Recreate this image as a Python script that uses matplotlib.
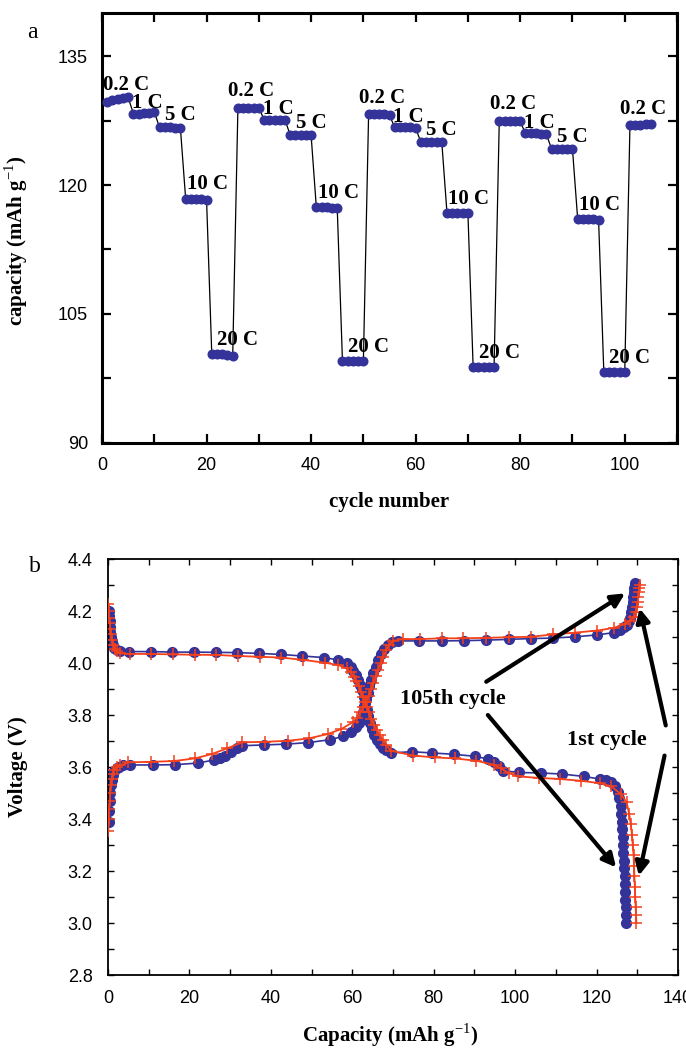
import matplotlib
matplotlib.use("Agg")
import matplotlib.pyplot as plt
from matplotlib.ticker import MultipleLocator

# ---- panel a : rate capability ----
cycles = list(range(1, 106))
capacity = [
    129.7, 129.9, 130.0, 130.1, 130.2,
    128.3, 128.3, 128.4, 128.4, 128.5,
    126.7, 126.7, 126.7, 126.6, 126.6,
    118.4, 118.4, 118.4, 118.4, 118.3,
    100.3, 100.3, 100.3, 100.2, 100.1,
    129.0, 129.0, 129.0, 129.0, 129.0,
    127.6, 127.6, 127.6, 127.6, 127.6,
    125.8, 125.8, 125.8, 125.8, 125.8,
    117.4, 117.4, 117.4, 117.3, 117.3,
    99.5, 99.5, 99.5, 99.5, 99.5,
    128.2, 128.2, 128.2, 128.2, 128.1,
    126.7, 126.7, 126.7, 126.7, 126.6,
    125.0, 125.0, 125.0, 125.0, 125.0,
    116.7, 116.7, 116.7, 116.7, 116.7,
    98.8, 98.8, 98.8, 98.8, 98.8,
    127.5, 127.5, 127.5, 127.4, 127.4,
    126.0, 126.0, 126.0, 125.9, 125.9,
    124.2, 124.2, 124.2, 124.2, 124.2,
    116.0, 116.0, 116.0, 116.0, 115.9,
    98.2, 98.2, 98.2, 98.2, 98.2,
    127.0, 127.0, 127.0, 127.1, 127.1,
]
rates = ['0.2 C', '1 C', '5 C', '10 C', '20 C'] * 4 + ['0.2 C']

# ---- panel b : charge / discharge curves ----
# 105th cycle (blue circles)
b_ch_q = [0.2, 0.3, 0.4, 0.5, 0.7, 0.9, 1.2, 1.6, 2.1, 2.8, 3.6,
          5.4, 11.0, 16.4, 22.0, 26.0, 27.4, 28.8, 30.2, 31.6, 33.0, 38.4, 43.7,
          49.2, 54.5, 57.8, 59.6, 61.0, 61.7, 62.2, 62.6, 63.0, 63.4, 63.8, 64.2,
          64.7, 65.2, 65.8, 66.4, 67.1, 67.9, 68.8, 69.8, 71.3, 76.5, 82.0, 87.5,
          92.9, 98.4, 103.9, 109.3, 114.8, 120.2, 124.2, 125.8, 126.8, 127.5,
          128.0, 128.3, 128.5, 128.7, 128.85, 129.0, 129.1, 129.3, 129.5]
b_ch_v = [3.39, 3.43, 3.47, 3.50, 3.53, 3.55, 3.57, 3.585, 3.595, 3.602, 3.606,
          3.608, 3.608, 3.609, 3.615, 3.627, 3.633, 3.644, 3.656, 3.672, 3.682, 3.685, 3.688,
          3.694, 3.705, 3.718, 3.733, 3.753, 3.77, 3.79, 3.81, 3.835, 3.86, 3.885, 3.91,
          3.935, 3.96, 3.985, 4.01, 4.035, 4.055, 4.07, 4.079, 4.085, 4.085, 4.085, 4.086,
          4.088, 4.091, 4.094, 4.096, 4.101, 4.108, 4.117, 4.127, 4.137, 4.146,
          4.16, 4.175, 4.195, 4.215, 4.235, 4.255, 4.275, 4.29, 4.306]
b_dis_q = [0.2, 0.3, 0.4, 0.5, 0.6, 0.7, 0.9, 1.2, 1.6, 2.2, 2.9,
           5.2, 10.5, 15.8, 21.1, 26.5, 31.8, 37.1, 42.5, 47.7, 53.0, 56.6, 58.6,
           59.6, 60.3, 60.9, 61.5, 62.0, 62.4, 62.8, 63.1, 63.5, 63.9, 64.3, 64.8,
           65.4, 66.0, 66.7, 67.5, 68.3, 69.4, 74.6, 79.7, 85.0, 90.2, 93.3, 94.9,
           96.1, 97.0, 101.0, 106.4, 111.5, 116.8, 120.8, 122.2, 123.6, 124.6,
           125.2, 125.6, 125.9, 126.1, 126.2, 126.3, 126.4, 126.5, 126.6, 126.7,
           126.8, 126.9, 127.0, 127.05, 127.1, 127.2, 127.25, 127.3]
b_dis_v = [4.20, 4.18, 4.16, 4.14, 4.12, 4.10, 4.085, 4.07, 4.058, 4.05, 4.047,
           4.044, 4.044, 4.042, 4.042, 4.041, 4.040, 4.037, 4.033, 4.027, 4.021, 4.012, 3.999,
           3.985, 3.97, 3.953, 3.935, 3.915, 3.895, 3.87, 3.845, 3.82, 3.795, 3.77, 3.745,
           3.722, 3.704, 3.69, 3.675, 3.665, 3.654, 3.659, 3.654, 3.649, 3.641, 3.631, 3.621,
           3.605, 3.586, 3.579, 3.577, 3.573, 3.564, 3.554, 3.551, 3.541, 3.526,
           3.505, 3.48, 3.45, 3.42, 3.39, 3.36, 3.33, 3.30, 3.27, 3.24,
           3.21, 3.18, 3.15, 3.12, 3.09, 3.06, 3.03, 3.00]

# 1st cycle (red crosses)
r_ch_q = [0.1, 0.2, 0.3, 0.4, 0.5, 0.7, 0.9, 1.2, 1.6, 2.2, 3.0,
          5.0, 10.6, 16.2, 21.3, 25.5, 29.3, 33.0, 38.6, 44.2, 49.3, 54.0, 57.3,
          60.1, 61.2, 62.0, 62.7, 63.4, 64.0, 64.6, 65.2, 65.8, 66.4, 67.0, 67.6,
          68.3, 69.1, 70.1, 72.5, 76.6, 82.0, 87.3, 92.9, 98.4, 103.9, 109.3, 114.8,
          120.2, 124.2, 127.0, 128.3, 129.1, 129.6, 129.9, 130.1, 130.3, 130.4,
          130.5, 130.6]
r_ch_v = [3.355, 3.40, 3.44, 3.47, 3.50, 3.53, 3.555, 3.575, 3.59, 3.60, 3.607,
          3.618, 3.62, 3.623, 3.633, 3.65, 3.672, 3.695, 3.697, 3.701, 3.71, 3.727, 3.746,
          3.772, 3.79, 3.81, 3.83, 3.85, 3.875, 3.90, 3.925, 3.95, 3.975, 4.0, 4.025,
          4.05, 4.07, 4.085, 4.092, 4.092, 4.095, 4.095, 4.097, 4.099, 4.101, 4.11, 4.117,
          4.125, 4.135, 4.15, 4.163, 4.176, 4.195, 4.215, 4.235, 4.255, 4.275,
          4.29, 4.30]
r_dis_q = [0.1, 0.2, 0.3, 0.4, 0.6, 0.8, 1.0, 1.3, 1.7, 2.2, 2.9,
           5.3, 10.6, 16.0, 21.3, 26.6, 32.0, 37.3, 42.6, 48.0, 53.3, 56.6, 58.6,
           59.6, 60.4, 61.0, 61.6, 62.1, 62.6, 63.1, 63.6, 64.1, 64.7, 65.3, 66.0,
           66.7, 67.5, 68.4, 69.4, 75.0, 80.2, 85.3, 90.5, 94.7, 96.5, 98.4, 100.7,
           105.9, 111.0, 116.2, 120.8, 123.6, 126.0, 127.4, 128.0, 128.4, 128.7,
           128.9, 129.1, 129.2, 129.3, 129.4, 129.5, 129.6, 129.7, 129.8]
r_dis_v = [4.227, 4.20, 4.175, 4.155, 4.13, 4.11, 4.09, 4.07, 4.055, 4.045, 4.037,
           4.035, 4.035, 4.033, 4.032, 4.031, 4.027, 4.024, 4.021, 4.012, 4.001, 3.992, 3.979,
           3.965, 3.947, 3.93, 3.91, 3.89, 3.87, 3.85, 3.83, 3.81, 3.785, 3.762, 3.742,
           3.725, 3.705, 3.685, 3.663, 3.644, 3.637, 3.633, 3.624, 3.609, 3.595, 3.577, 3.564,
           3.558, 3.554, 3.547, 3.538, 3.526, 3.496, 3.464, 3.42, 3.38, 3.34,
           3.30, 3.26, 3.22, 3.18, 3.14, 3.10, 3.06, 3.03, 3.00]

BLUE = '#333399'
RED = '#f5401c'
SERIF = 'Liberation Serif'
SANS = 'Liberation Sans'

plt.rcParams['font.family'] = SANS
plt.rcParams['mathtext.fontset'] = 'custom'
plt.rcParams['mathtext.rm'] = SERIF
plt.rcParams['mathtext.bf'] = SERIF + ':bold'
fig = plt.figure(figsize=(6.86, 10.49), dpi=100)

# ---------------- panel a ----------------
ax1 = fig.add_axes([0.1487, 0.5777, 0.8382, 0.4099])
ax1.plot(cycles, capacity, color='black', lw=0.9, marker='o', ms=6.2,
         mfc=BLUE, mec=BLUE, zorder=3)
offs = {'0.2 C': (-7, 8), '1 C': (-1, 4), '5 C': (4, 5), '10 C': (1, 7), '20 C': (4, 7)}
for i, lab in enumerate(rates):
    x0 = cycles[i * 5]
    y0 = capacity[i * 5]
    dx, dy = offs[lab]
    if i == 0:
        dx = -3
    ax1.annotate(lab, (x0, y0), xytext=(dx, dy), textcoords='offset points',
                 ha='left', va='baseline', fontsize=15, fontweight='bold',
                 family=SERIF, zorder=4)
ax1.set_xlim(0, 110)
ax1.set_ylim(90, 140)
ax1.xaxis.set_major_locator(MultipleLocator(20))
ax1.xaxis.set_minor_locator(MultipleLocator(10))
ax1.yaxis.set_major_locator(MultipleLocator(15))
ax1.yaxis.set_minor_locator(MultipleLocator(7.5))
ax1.tick_params(which='both', direction='in', top=True, right=True,
                length=6.5, width=1.6, labelsize=13, pad=10)
for s in ax1.spines.values():
    s.set_linewidth(2.2)
ax1.set_xlabel('cycle number', fontsize=15, fontweight='bold', family=SERIF)
ax1.set_ylabel(r'capacity (mAh g$^{\mathrm{-1}}$)', fontsize=15, fontweight='bold', family=SERIF)
ax1.xaxis.set_label_coords(0.5, -0.115)
ax1.yaxis.set_label_coords(-0.125, 0.47)
fig.text(32 / 686, 1 - 32 / 1049, 'a', fontsize=17, family=SERIF, ha='center', va='center')

# ---------------- panel b ----------------
ax2 = fig.add_axes([0.1574, 0.0705, 0.8309, 0.3966])
for q, v in [(b_ch_q, b_ch_v), (b_dis_q, b_dis_v)]:
    ax2.plot(q, v, color=BLUE, lw=1.2, marker='o', ms=7, mfc=BLUE, mec=BLUE, zorder=2)
for q, v in [(r_ch_q, r_ch_v), (r_dis_q, r_dis_v)]:
    ax2.plot(q, v, color=RED, lw=1.3, marker='+', ms=9, mew=1.1, zorder=3)

ax2.set_xlim(0, 140)
ax2.set_ylim(2.8, 4.4)
ax2.xaxis.set_major_locator(MultipleLocator(20))
ax2.xaxis.set_minor_locator(MultipleLocator(10))
ax2.yaxis.set_major_locator(MultipleLocator(0.2))
ax2.yaxis.set_minor_locator(MultipleLocator(0.1))
ax2.yaxis.set_major_formatter(matplotlib.ticker.FormatStrFormatter('%.1f'))
ax2.tick_params(which='both', direction='in', top=True, right=True,
                length=4, width=1.0, labelsize=13, pad=11)
for s in ax2.spines.values():
    s.set_linewidth(1.3)
ax2.set_xlabel(r'Capacity (mAh g$^{\mathrm{-1}}$)', fontsize=15, fontweight='bold', family=SERIF)
ax2.set_ylabel('Voltage (V)', fontsize=15, fontweight='bold', family=SERIF)
ax2.xaxis.set_label_coords(0.495, -0.112)
ax2.yaxis.set_label_coords(-0.14, 0.5)
fig.text(35 / 686, 1 - 567 / 1049, 'b', fontsize=17, family=SERIF, ha='center', va='center')

arrow_kw = dict(arrowstyle='-|>', color='black', lw=3, mutation_scale=20,
                shrinkA=0, shrinkB=0)
ax2.annotate('', xy=(127.0, 4.268), xytext=(92.9, 3.928), arrowprops=arrow_kw)
ax2.annotate('', xy=(124.8, 3.214), xytext=(93.3, 3.80), arrowprops=arrow_kw)
ax2.annotate('', xy=(130.6, 4.21), xytext=(137.0, 3.76), arrowprops=arrow_kw)
ax2.annotate('', xy=(130.4, 3.182), xytext=(136.7, 3.644), arrowprops=arrow_kw)
ax2.text(84.8, 3.862, '105th cycle', fontsize=16, fontweight='bold', family=SERIF,
         ha='center', va='center')
ax2.text(122.5, 3.705, '1st cycle', fontsize=16, fontweight='bold', family=SERIF,
         ha='center', va='center')

fig.savefig('out.png', dpi=100)
